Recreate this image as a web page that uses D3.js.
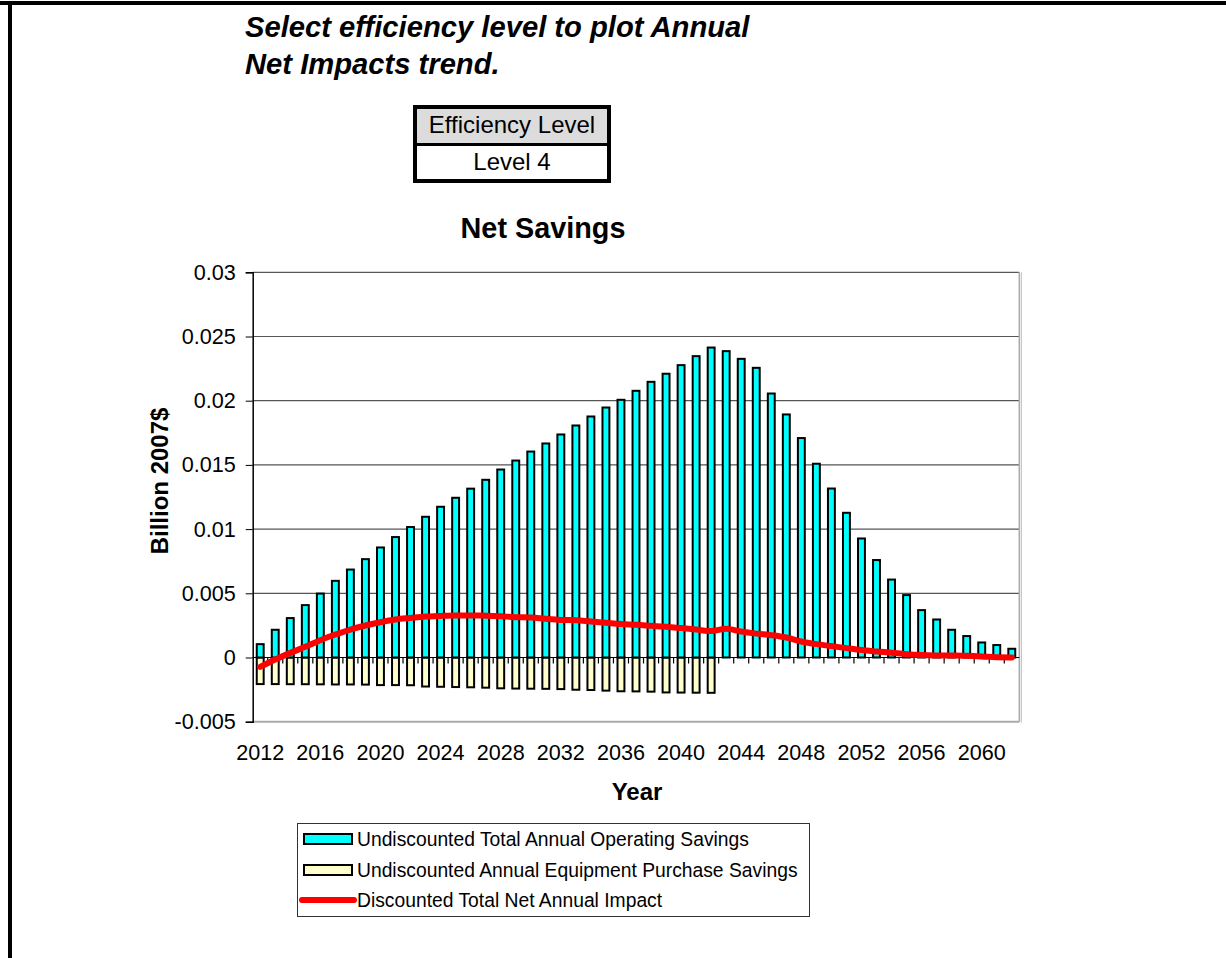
<!DOCTYPE html>
<html>
<head>
<meta charset="utf-8">
<script src="https://cdn.jsdelivr.net/npm/d3@7"></script>
<style>
  body { margin: 0; background: #fff; }
  svg { display: block; font-family: Arial, "Liberation Sans", sans-serif; }
</style>
</head>
<body>
<svg id="chart"></svg>
<script>
// categories
var years = [2012, 2013, 2014, 2015, 2016, 2017, 2018, 2019, 2020, 2021,
  2022, 2023, 2024, 2025, 2026, 2027, 2028, 2029, 2030, 2031,
  2032, 2033, 2034, 2035, 2036, 2037, 2038, 2039, 2040, 2041,
  2042, 2043, 2044, 2045, 2046, 2047, 2048, 2049, 2050, 2051,
  2052, 2053, 2054, 2055, 2056, 2057, 2058, 2059, 2060, 2061, 2062];

// Undiscounted Total Annual Operating Savings (2012-2062)
var operating = [0.00104, 0.00216, 0.00307, 0.00408, 0.00498, 0.00597, 0.00685, 0.00766, 0.00857, 0.00938,
  0.01016, 0.01096, 0.01174, 0.01244, 0.01315, 0.01384, 0.01464, 0.01534, 0.01604, 0.01667,
  0.01737, 0.01807, 0.01877, 0.01947, 0.02007, 0.02077, 0.02147, 0.0221, 0.02277, 0.02347,
  0.02414, 0.02386, 0.02326, 0.02256, 0.02056, 0.01893, 0.01709, 0.01509, 0.01316, 0.01127,
  0.00927, 0.00759, 0.00607, 0.00486, 0.00369, 0.00296, 0.00216, 0.00167, 0.00117, 0.00097, 0.00068];

// Undiscounted Annual Equipment Purchase Savings (2012-2042)
var equipment = [-0.00207, -0.00207, -0.00208, -0.00208, -0.00209, -0.0021, -0.0021, -0.00211, -0.00215, -0.00215,
  -0.00216, -0.00226, -0.00228, -0.0023, -0.00232, -0.00235, -0.0024, -0.00242, -0.00243, -0.00244,
  -0.00246, -0.00251, -0.00253, -0.00258, -0.00263, -0.00264, -0.00266, -0.00272, -0.00273, -0.00274, -0.00275];

// Discounted Total Net Annual Impact (2012-2062)
var netImpact = [-0.00073, -0.00016, 0.00036, 0.00083, 0.00135, 0.00179, 0.00218, 0.00249, 0.00275, 0.00296,
  0.00308, 0.00319, 0.00324, 0.00327, 0.00327, 0.00326, 0.00322, 0.00314, 0.00312, 0.00301,
  0.00293, 0.00291, 0.0028, 0.0027, 0.0026, 0.00255, 0.00247, 0.00239, 0.00229, 0.00218,
  0.00206, 0.00224, 0.00202, 0.00186, 0.00174, 0.00156, 0.00125, 0.00104, 0.00089, 0.00073,
  0.00058, 0.00047, 0.00037, 0.00026, 0.00019, 0.00016, 0.00015, 0.00013, 0.00008, 0.00001, 0.0];

var yTicks = [-0.005, 0, 0.005, 0.01, 0.015, 0.02, 0.025, 0.03];
var yTickLabels = ["-0.005", "0", "0.005", "0.01", "0.015", "0.02", "0.025", "0.03"];
var xLabelYears = [2012, 2016, 2020, 2024, 2028, 2032, 2036, 2040, 2044, 2048, 2052, 2056, 2060];

var seriesNames = ["Undiscounted Total Annual Operating Savings",
  "Undiscounted Annual Equipment Purchase Savings",
  "Discounted Total Net Annual Impact"];

var svgWidth = 1226, svgHeight = 958;
var plot = {left: 252.7, right: 1019.3, top: 272.3, bottom: 721.7};

var svg = d3.select("#chart")
  .attr("width", svgWidth)
  .attr("height", svgHeight);

// sheet borders
svg.append("rect").attr("x", 0).attr("y", 1).attr("width", svgWidth).attr("height", 4).attr("fill", "#000");
svg.append("rect").attr("x", 8).attr("y", 1).attr("width", 4).attr("height", svgHeight).attr("fill", "#000");

// header text
var header = svg.append("text")
  .attr("x", 245)
  .attr("font-size", 29.2)
  .attr("font-weight", "bold")
  .attr("font-style", "italic")
  .attr("fill", "#000");
header.append("tspan").attr("x", 245).attr("y", 37).text("Select efficiency level to plot Annual");
header.append("tspan").attr("x", 245).attr("y", 74).text("Net Impacts trend.");

// efficiency level selector box
var box = svg.append("g");
box.append("rect").attr("x", 415).attr("y", 107).attr("width", 194).attr("height", 74)
  .attr("fill", "#fff").attr("stroke", "#000").attr("stroke-width", 4);
box.append("rect").attr("x", 417).attr("y", 109).attr("width", 190).attr("height", 34)
  .attr("fill", "#dcdcdc");
box.append("line").attr("x1", 415).attr("x2", 609).attr("y1", 144.5).attr("y2", 144.5)
  .attr("stroke", "#000").attr("stroke-width", 3);
box.append("text").attr("x", 512).attr("y", 133).attr("text-anchor", "middle")
  .attr("font-size", 24).text("Efficiency Level");
box.append("text").attr("x", 512).attr("y", 170).attr("text-anchor", "middle")
  .attr("font-size", 24).text("Level 4");

// scales
var x = d3.scaleBand()
  .domain(years)
  .range([plot.left, plot.right])
  .padding(0);
var y = d3.scaleLinear()
  .domain([-0.005, 0.03])
  .range([plot.bottom, plot.top]);

var barW = x.bandwidth() * 0.46;
var cx = function (yr) { return x(yr) + x.bandwidth() / 2; };

// gridlines
svg.append("g")
  .selectAll("line")
  .data(yTicks)
  .join("line")
  .attr("x1", plot.left)
  .attr("x2", plot.right)
  .attr("y1", function (d) { return y(d); })
  .attr("y2", function (d) { return y(d); })
  .attr("stroke", function (d) { return d === -0.005 ? "#aaa" : "#555"; })
  .attr("stroke-width", function (d) { return d === -0.005 ? 2 : 1.2; });

// plot area right border (double grey)
svg.append("line").attr("x1", plot.right).attr("x2", plot.right)
  .attr("y1", plot.top).attr("y2", plot.bottom).attr("stroke", "#aaa").attr("stroke-width", 1.5);
svg.append("line").attr("x1", plot.right + 2).attr("x2", plot.right + 2)
  .attr("y1", plot.top).attr("y2", plot.bottom + 1).attr("stroke", "#bbb").attr("stroke-width", 1);

// y axis
var yAxis = svg.append("g")
  .attr("transform", "translate(" + plot.left + ",0)")
  .call(d3.axisLeft(y)
    .tickValues(yTicks)
    .tickFormat(function (d, i) { return yTickLabels[i]; })
    .tickSize(7)
    .tickPadding(10));
yAxis.select(".domain").attr("stroke", "#000").attr("stroke-width", 1.5);
yAxis.selectAll(".tick line").attr("stroke", "#000");
yAxis.selectAll(".tick text")
  .attr("font-size", 21.6)
  .attr("font-family", "Arial, 'Liberation Sans', sans-serif")
  .attr("fill", "#000");

// equipment purchase bars (negative)
svg.append("g")
  .selectAll("rect")
  .data(equipment)
  .join("rect")
  .attr("x", function (d, i) { return cx(years[i]) - barW / 2; })
  .attr("y", y(0))
  .attr("width", barW)
  .attr("height", function (d) { return y(d) - y(0); })
  .attr("fill", "#ffffcc")
  .attr("stroke", "#000")
  .attr("stroke-width", 2);

// operating savings bars
svg.append("g")
  .selectAll("rect")
  .data(operating)
  .join("rect")
  .attr("x", function (d, i) { return cx(years[i]) - barW / 2; })
  .attr("y", function (d) { return y(d); })
  .attr("width", barW)
  .attr("height", function (d) { return y(0) - y(d); })
  .attr("fill", "#00ffff")
  .attr("stroke", "#000")
  .attr("stroke-width", 2);

// x axis at zero with tick marks between categories
var zeroY = y(0);
svg.append("line").attr("x1", plot.left).attr("x2", plot.right)
  .attr("y1", zeroY).attr("y2", zeroY).attr("stroke", "#000").attr("stroke-width", 1.2);
svg.append("g")
  .selectAll("line")
  .data(years.slice(1))
  .join("line")
  .attr("x1", function (d) { return x(d); })
  .attr("x2", function (d) { return x(d); })
  .attr("y1", zeroY)
  .attr("y2", zeroY + 6)
  .attr("stroke", "#000")
  .attr("stroke-width", 1.2);

// x labels below plot
var xAxis = svg.append("g")
  .attr("transform", "translate(0," + plot.bottom + ")")
  .call(d3.axisBottom(x)
    .tickValues(xLabelYears)
    .tickSize(0)
    .tickPadding(23));
xAxis.select(".domain").remove();
xAxis.selectAll(".tick text")
  .attr("font-size", 21.6)
  .attr("font-family", "Arial, 'Liberation Sans', sans-serif")
  .attr("fill", "#000");

// net impact line
var line = d3.line()
  .x(function (d, i) { return cx(years[i]); })
  .y(function (d) { return y(d); })
  .curve(d3.curveMonotoneX);
svg.append("path")
  .datum(netImpact)
  .attr("fill", "none")
  .attr("stroke", "#ff0000")
  .attr("stroke-width", 6)
  .attr("stroke-linejoin", "round")
  .attr("stroke-linecap", "round")
  .attr("d", line);

// titles
svg.append("text").attr("x", 543).attr("y", 238).attr("text-anchor", "middle")
  .attr("font-size", 28.8).attr("font-weight", "bold").text("Net Savings");
svg.append("text").attr("x", 637).attr("y", 800).attr("text-anchor", "middle")
  .attr("font-size", 24).attr("font-weight", "bold").text("Year");
svg.append("text")
  .attr("transform", "translate(168,481) rotate(-90)")
  .attr("text-anchor", "middle")
  .attr("font-size", 24).attr("font-weight", "bold").text("Billion 2007$");

// legend
var legend = svg.append("g");
legend.append("rect").attr("x", 297.5).attr("y", 823.5).attr("width", 512).attr("height", 93)
  .attr("fill", "#fff").attr("stroke", "#333").attr("stroke-width", 1);
var rowY = [839, 870, 900];
legend.append("rect").attr("x", 304).attr("y", rowY[0] - 5).attr("width", 48).attr("height", 10)
  .attr("fill", "#00ffff").attr("stroke", "#000").attr("stroke-width", 2);
legend.append("rect").attr("x", 304).attr("y", rowY[1] - 5).attr("width", 48).attr("height", 10)
  .attr("fill", "#ffffcc").attr("stroke", "#000").attr("stroke-width", 2);
legend.append("line").attr("x1", 302).attr("x2", 354).attr("y1", rowY[2]).attr("y2", rowY[2])
  .attr("stroke", "#ff0000").attr("stroke-width", 6).attr("stroke-linecap", "round");
legend.selectAll("text.leg")
  .data(seriesNames)
  .join("text")
  .attr("class", "leg")
  .attr("x", 357)
  .attr("y", function (d, i) { return rowY[i]; })
  .attr("dy", "0.35em")
  .attr("font-size", 19.3)
  .text(function (d) { return d; });
</script>
</body>
</html>
